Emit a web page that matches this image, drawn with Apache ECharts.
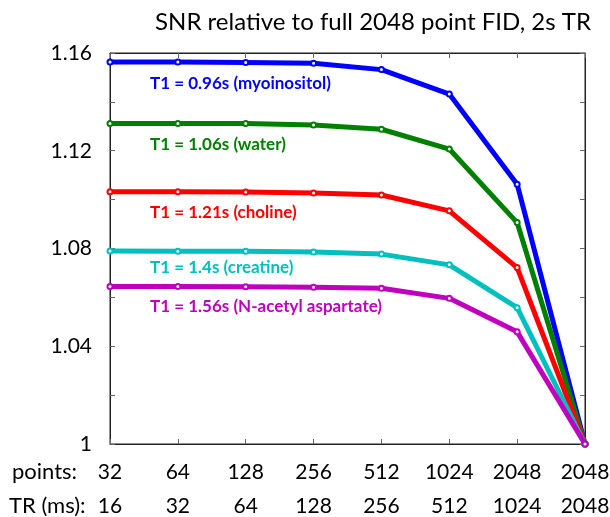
<!DOCTYPE html>
<html>
<head>
<meta charset="utf-8">
<script src="https://cdn.jsdelivr.net/npm/echarts@6/dist/echarts.min.js"></script>
<style>
  html, body { margin: 0; padding: 0; background: #fff; }
  #chart { width: 610px; height: 517px; }
</style>
</head>
<body>
<div id="chart"></div>
<script>
// x categories: FID points kept and the matching TR
var pointsLabels = ['32', '64', '128', '256', '512', '1024', '2048', '2048'];
var trLabels = ['16', '32', '64', '128', '256', '512', '1024', '2048'];

// SNR relative to full 2048 point FID
var snrMyo = [1.1563, 1.1563, 1.1561, 1.1558, 1.1532, 1.1432, 1.1063, 1];
var snrWater = [1.1312, 1.1312, 1.1311, 1.1305, 1.1288, 1.1207, 1.0906, 1];
var snrCho = [1.1032, 1.1032, 1.1031, 1.1027, 1.1019, 1.0954, 1.0722, 1];
var snrCr = [1.0790, 1.0789, 1.0789, 1.0786, 1.0777, 1.0733, 1.0558, 1];
var snrNaa = [1.0644, 1.0644, 1.0643, 1.0641, 1.0637, 1.0596, 1.0459, 1];

var seriesNames = ['T1 = 0.96s (myoinositol)', 'T1 = 1.06s (water)', 'T1 = 1.21s (choline)',
  'T1 = 1.4s (creatine)', 'T1 = 1.56s (N-acetyl aspartate)'];
var colors = ['#0000ff', '#008000', '#ff0000', '#00bfbf', '#bf00bf'];
var allData = [snrMyo, snrWater, snrCho, snrCr, snrNaa];

var chart = echarts.init(document.getElementById('chart'));

var series = allData.map(function (d, i) {
  return {
    name: seriesNames[i],
    type: 'line',
    data: d,
    symbol: 'emptyCircle',
    symbolSize: 5,
    showAllSymbol: true,
    lineStyle: { width: 5, color: colors[i] },
    itemStyle: { color: colors[i], borderWidth: 1 },
    animation: false
  };
});

// label text under each line
var labelY = [84, 145, 213, 268, 307];
var graphics = seriesNames.map(function (n, i) {
  return {
    type: 'text', x: 150, y: labelY[i],
    style: { text: n, fill: colors[i], font: 'bold 17px Lato', verticalAlign: 'middle' }
  };
});
graphics.push({ type: 'text', x: 12, y: 472, style: { text: 'points:', fill: '#000', font: '22px Lato', verticalAlign: 'middle' } });
graphics.push({ type: 'text', x: 9, y: 506, style: { text: 'TR (ms):', fill: '#000', font: '22px Lato', verticalAlign: 'middle' } });

var boxAxisLine = { show: true, onZero: false, lineStyle: { color: '#222', width: 1 } };
var boxTick = { show: true, inside: true, length: 5, lineStyle: { color: '#666' } };

var option = {
  title: {
    text: 'SNR relative to full 2048 point FID, 2s TR',
    left: 368, top: 5, textAlign: 'center',
    textStyle: { fontFamily: 'Lato', fontWeight: 'normal', fontSize: 24, color: '#000' }
  },
  grid: {
    left: 110, right: 25, top: 53, bottom: 73, outerBoundsMode: 'none',
    show: true, borderColor: '#222', borderWidth: 1
  },
  xAxis: [{
    type: 'category',
    data: trLabels,
    boundaryGap: false,
    axisLine: boxAxisLine,
    axisTick: boxTick,
    axisLabel: {
      margin: 11, interval: 0, color: '#000', fontFamily: 'Lato', fontSize: 21, lineHeight: 34,
      formatter: function (v, idx) { return pointsLabels[idx] + '\n' + trLabels[idx]; }
    },
    splitLine: { show: false }
  }, {
    type: 'category',
    data: trLabels,
    boundaryGap: false,
    position: 'top',
    axisLine: boxAxisLine,
    axisTick: boxTick,
    axisLabel: { show: false },
    splitLine: { show: false }
  }],
  yAxis: [{
    type: 'value',
    min: 1, max: 1.16, interval: 0.02,
    axisLine: boxAxisLine,
    axisTick: boxTick,
    axisLabel: {
      margin: 18, color: '#000', fontFamily: 'Lato', fontSize: 21,
      formatter: function (v) {
        var k = Math.round((v - 1) / 0.02);
        return k % 2 === 0 ? String(+v.toFixed(2)) : '';
      }
    },
    splitLine: { show: false }
  }, {
    type: 'value',
    min: 1, max: 1.16, interval: 0.02,
    position: 'right',
    axisLine: boxAxisLine,
    axisTick: boxTick,
    axisLabel: { show: false },
    splitLine: { show: false }
  }],
  series: series,
  graphic: graphics
};

chart.setOption(option);
</script>
</body>
</html>
